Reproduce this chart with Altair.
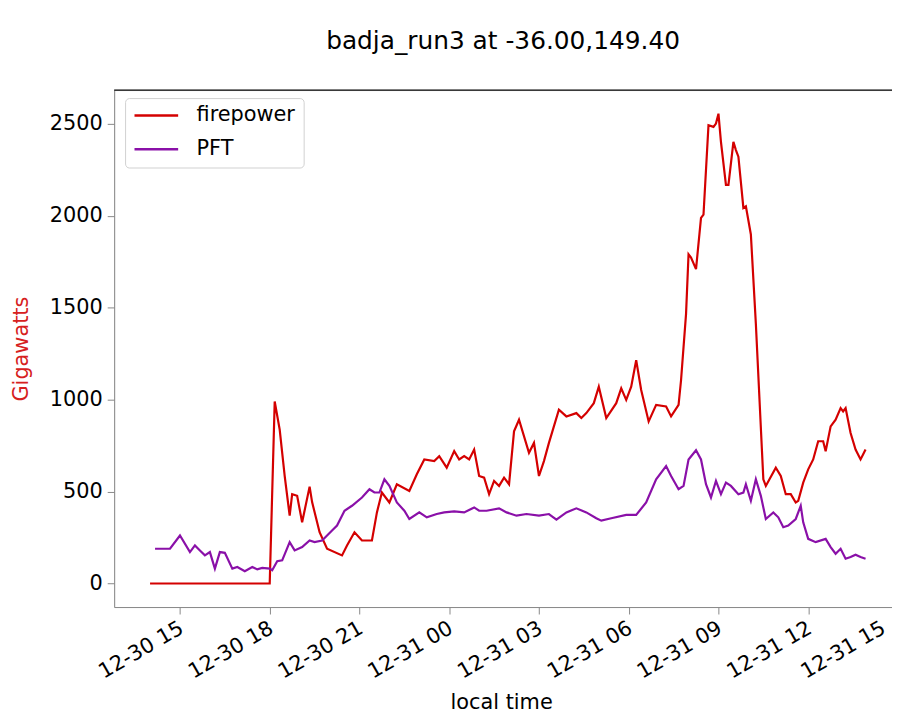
import altair as alt
import pandas as pd

title_text = "badja_run3 at -36.00,149.40"
series_names = ["firepower", "PFT"]
series_colors = ["#d40000", "#8a10a8"]
start_time = "2019-12-30 14:00"

# minutes after start_time, and values (Gigawatts)
fire_min = [0, 240, 250, 260, 270, 280, 285, 295, 305, 320, 325, 340, 355, 385, 395, 410, 425, 445, 455, 465,
            480, 495, 520, 535, 550, 570, 580, 595, 610, 620, 630, 640, 650, 660, 670, 680, 690, 700, 710, 720,
            730, 740, 760, 770, 780, 790, 800, 820, 835, 855, 865, 875, 890, 900, 915, 935, 945, 955, 965, 975,
            985, 1000, 1015, 1035, 1045, 1060, 1065, 1075, 1080, 1085, 1095, 1105, 1110, 1120, 1130, 1135, 1140,
            1145, 1155, 1160, 1170, 1175, 1180, 1190, 1195, 1205, 1215, 1230, 1235, 1255, 1265, 1275, 1285, 1295,
            1300, 1310, 1320, 1330, 1340, 1350, 1355, 1365, 1375, 1385, 1390, 1395, 1405, 1415, 1425, 1430, 1435]
fire_val = [0, 0, 990, 837, 585, 369, 486, 477, 333, 527, 443, 279, 189, 153, 207, 279, 234, 234, 387, 495,
            441, 540, 504, 594, 675, 666, 693, 630, 720, 675, 693, 675, 729, 585, 576, 486, 558, 531, 576, 540,
            828, 891, 711, 765, 585, 666, 765, 945, 909, 927, 900, 927, 981, 1071, 900, 981, 1062, 999, 1071, 1215,
            1053, 882, 972, 963, 909, 972, 1107, 1467, 1791, 1773, 1710, 1989, 2007, 2493, 2484, 2502, 2556,
            2403, 2169, 2169, 2403, 2358, 2322, 2043, 2052, 1899, 1413, 567, 531, 630, 585, 486, 486, 441,
            450, 549, 621, 675, 774, 774, 720, 855, 891, 954, 936, 954, 819, 729, 675, 702, 729]

pft_min = [10, 40, 60, 80, 90, 100, 110, 120, 130, 140, 150, 165, 175, 190, 205, 215, 225, 240, 245, 255,
           265, 280, 290, 305, 320, 330, 345, 365, 375, 390, 405, 425, 440, 450, 460, 470, 480, 495, 510, 520,
           540, 555, 575, 590, 610, 630, 650, 660, 675, 700, 715, 735, 755, 780, 800, 815, 835, 855, 875, 895,
           905, 925, 955, 975, 995, 1015, 1035, 1045, 1060, 1070, 1080, 1095, 1105, 1115, 1125, 1135, 1145,
           1155, 1165, 1180, 1190, 1195, 1205, 1215, 1225, 1235, 1250, 1260, 1270, 1280, 1295, 1305, 1310,
           1320, 1335, 1355, 1365, 1375, 1385, 1395, 1405, 1415, 1425, 1435]
pft_val = [189, 189, 261, 171, 207, 180, 153, 171, 81, 171, 167, 81, 90, 67, 90, 77, 85, 81, 72, 121,
           126, 225, 180, 198, 234, 225, 234, 288, 315, 396, 423, 468, 513, 495, 495, 567, 531, 441, 396, 351,
           387, 360, 378, 387, 392, 387, 414, 396, 396, 409, 387, 369, 378, 369, 378, 347, 387, 409, 387, 355,
           342, 355, 373, 373, 441, 567, 639, 585, 513, 531, 675, 725, 675, 540, 468, 558, 486, 549, 531, 486,
           495, 540, 450, 567, 477, 351, 387, 360, 306, 315, 351, 423, 333, 243, 225, 243, 198, 162, 189, 135,
           144, 157, 144, 135]

y_ticks = [0, 500, 1000, 1500, 2000, 2500]
x_tick_days = [30, 30, 30, 31, 31, 31, 31, 31, 31]
x_tick_hours = [15, 18, 21, 0, 3, 6, 9, 12, 15]

t0 = pd.Timestamp(start_time)
df = pd.concat([
    pd.DataFrame({"time": t0 + pd.to_timedelta(fire_min, unit="m"), "value": fire_val, "series": series_names[0]}),
    pd.DataFrame({"time": t0 + pd.to_timedelta(pft_min, unit="m"), "value": pft_val, "series": series_names[1]}),
], ignore_index=True)

x_values = [alt.DateTime(year=2019, month=12, date=d, hours=h) for d, h in zip(x_tick_days, x_tick_hours)]
x_domain = [alt.DateTime(year=2019, month=12, date=30, hours=12, minutes=48),
            alt.DateTime(year=2019, month=12, date=31, hours=15)]

W, H = 784, 521
FONT = "DejaVu Sans"

last_label_offset = {"condition": {"test": "datum.value > datetime(2019, 11, 31, 13)", "value": -20},
                     "value": -4}

lines = alt.Chart(df).mark_line(strokeWidth=2.2).encode(
    x=alt.X("time:T",
            scale=alt.Scale(domain=x_domain, range=[0, 790]),
            axis=alt.Axis(values=x_values, format="%m-%d %H", labelAngle=330, labelAlign="right",
                          labelBaseline="top", labelFontSize=21, labelFlush=False, labelOverlap=False,
                          labelBound=False, labelPadding=3, labelOffset=last_label_offset, tickSize=7,
                          title="local time",
                          titleFontSize=21, titleFontWeight="normal", titleX=390, titleY=96,
                          titleBaseline="middle", titleAlign="center", grid=False)),
    y=alt.Y("value:Q",
            scale=alt.Scale(domain=[-128, 2684], nice=False, zero=False),
            axis=alt.Axis(values=y_ticks, format="d", labelFontSize=21, tickSize=7, labelPadding=5,
                          title="Gigawatts", titleColor="#d62020", titleFontSize=21,
                          titleFontWeight="normal", titleAngle=270, titleX=-93, titleY=H / 2,
                          titleBaseline="middle", titleAlign="center", grid=False)),
    color=alt.Color("series:N",
                    scale=alt.Scale(domain=series_names, range=series_colors),
                    legend=alt.Legend(title=None, orient="none", legendX=11, legendY=8,
                                      labelFontSize=21, symbolType="stroke", symbolSize=1936,
                                      symbolStrokeWidth=2.5, clipHeight=19, rowPadding=12,
                                      labelOffset=17, padding=8, cornerRadius=4,
                                      strokeColor="#d0d0d0", fillColor="white")),
)

top_rule = alt.Chart(pd.DataFrame({"k": [0]})).mark_rule(color="black", strokeWidth=1.3).encode(
    x=alt.value(0), x2=alt.value(W), y=alt.value(0)
)

chart = alt.layer(lines, top_rule).properties(
    width=W, height=H,
    title=alt.TitleParams(title_text, fontSize=25, font=FONT, fontWeight="normal", anchor="middle",
                          baseline="middle", offset=24, color="black"),
    autosize=alt.AutoSizeParams(type="none"),
    padding={"left": 107, "top": 80, "right": 0, "bottom": 104},
).configure_view(stroke=None).configure_axis(
    labelFont=FONT, titleFont=FONT, labelColor="#111", titleColor="#111",
    domainColor="black", domainWidth=1.3, tickColor="black", tickWidth=1.3,
).configure_legend(labelFont=FONT, labelColor="#111").configure(font=FONT)

chart.save("out.html", embed_options={"renderer": "svg", "actions": False})
